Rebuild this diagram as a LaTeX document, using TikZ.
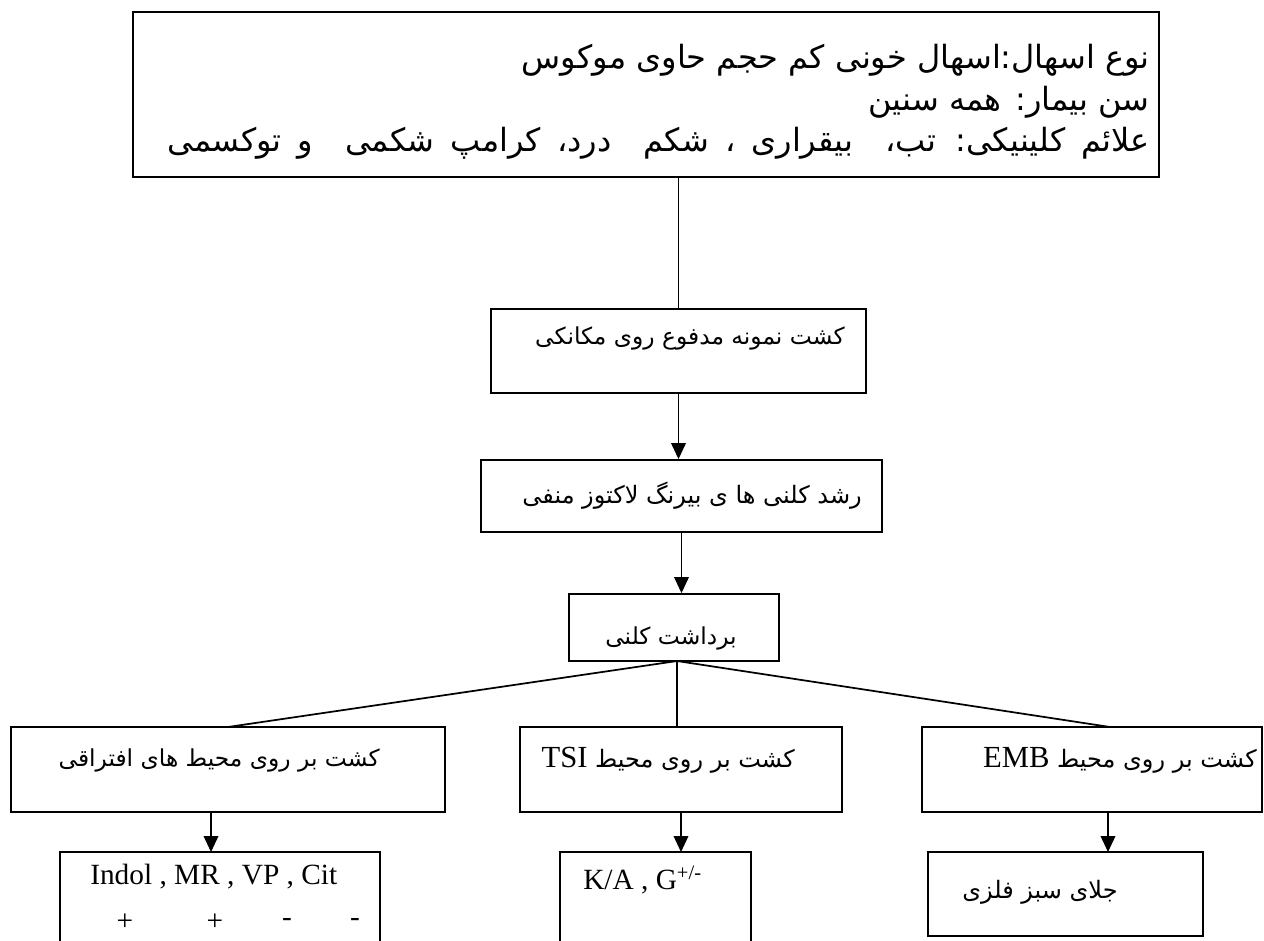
\documentclass[tikz,border=0pt]{standalone}
\usepackage{fontspec}
\setmainfont{Liberation Serif}
\newfontfamily\fa[Script=Arabic]{DejaVu Sans}
\TeXXeTstate=1
\usetikzlibrary{arrows.meta}
\tikzset{
  box/.style={draw, line width=1.4pt, rectangle, inner sep=0pt},
  txt/.style={inner sep=0pt, font=\fa\fontsize{17.5}{20}\selectfont},
  bigtxt/.style={inner sep=0pt, font=\fa\fontsize{24}{28}\selectfont},
  lat/.style={inner sep=0pt, font=\fontsize{22}{26}\selectfont},
  conn/.style={line width=1.3pt},
  arr/.style={line width=1.1pt, -{Triangle[length=12pt,width=11pt]}},
}
\begin{document}
\begin{tikzpicture}[x=0.75pt,y=-0.75pt]
\clip (0,0) rectangle (1264,940);
\fill[white] (0,0) rectangle (1264,940);
% boxes
\node[box, minimum width=769.5pt, minimum height=123.75pt] (top) at (646,94.5) {};
\node[box, minimum width=281.25pt, minimum height=63pt] (b2) at (678.5,351) {};
\node[box, minimum width=300.75pt, minimum height=54pt] (b3) at (681.5,496) {};
\node[box, minimum width=157.5pt, minimum height=50.25pt] (b4) at (674,627.5) {};
\node[box, minimum width=325.5pt, minimum height=63.75pt] (left) at (228,769.5) {};
\node[box, minimum width=241.5pt, minimum height=63.75pt] (mid) at (681,769.5) {};
\node[box, minimum width=255pt, minimum height=63.75pt] (right) at (1092,769.5) {};
\node[box, minimum width=240pt, minimum height=73.5pt] (bl) at (220,901) {};
\node[box, minimum width=143.25pt, minimum height=73.5pt] (bm) at (655.5,901) {};
\node[box, minimum width=206.25pt, minimum height=63pt] (br) at (1065.5,894) {};
% texts
\node[bigtxt, anchor=east] (t1) at (1150,60) {\beginR نوع اسهال:اسهال خونی کم حجم حاوی موکوس\endR};
\node[bigtxt, anchor=east] (t2) at (1150,102) {\beginR سن بیمار: همه سنین\endR};
\node[bigtxt, anchor=east] (t3) at (1150,143) {\spaceskip=0.5em\beginR علائم کلینیکی: تب،\ \ بیقراری ، شکم\ \ درد، کرامپ شکمی\ \ و توکسمی\endR};
\node[txt, anchor=east] (t4) at (845,338) {\beginR کشت نمونه مدفوع روی مکانکی\endR};
\node[txt, anchor=east, font=\fa\fontsize{18}{20}\selectfont] (t5) at (862,496) {\beginR رشد کلنی ها ی بیرنگ لاکتوز منفی\endR};
\node[txt] (t6) at (671,638) {\beginR برداشت کلنی\endR};
\node[txt, anchor=east] (t7) at (380,760) {\beginR کشت بر روی محیط های افتراقی\endR};
\node[txt, anchor=east, font=\fa\fontsize{18}{20}\selectfont] (t8) at (795,760) {{\rmfamily\fontsize{23}{26}\selectfont TSI}\ \beginR کشت بر روی محیط\endR};
\node[txt, anchor=east, font=\fa\fontsize{18}{20}\selectfont] (t9) at (1257,760) {{\rmfamily\fontsize{23}{26}\selectfont EMB}\ \beginR کشت بر روی محیط\endR};
\node[lat, anchor=west] (t10) at (90,877) {Indol , MR , VP , Cit};
\node[lat] (p1) at (125,922) {+};
\node[lat] (p2) at (215,922) {+};
\node[lat] (p3) at (287,922) {-};
\node[lat] (p4) at (355,922) {-};
\node[lat, anchor=west] (t11) at (583,880) {K/A , G\textsuperscript{+/-}};
\node[txt, font=\fa\fontsize{18}{20}\selectfont] (t12) at (1040,892) {\beginR جلای سبز فلزی\endR};
% connectors
\draw[conn, line width=0.8pt] (b2.north |- top.south) -- (b2.north);
\draw[arr] (b2.south) -- (b2.south |- b3.north);
\draw[arr] (b3.south) -- (b3.south |- b4.north);
\coordinate (hub) at (677,661);
\draw[conn] (hub) -- (225,727 -| left.north);
\draw[conn, line width=0.8pt] (hub) -- (hub |- mid.north);
\draw[conn] (hub) -- (1110,727);
\draw[arr] (211,812) -- (211,852);
\draw[arr] (681,812) -- (681,852);
\draw[arr] (1108,812) -- (1108,852);
\end{tikzpicture}
\end{document}
